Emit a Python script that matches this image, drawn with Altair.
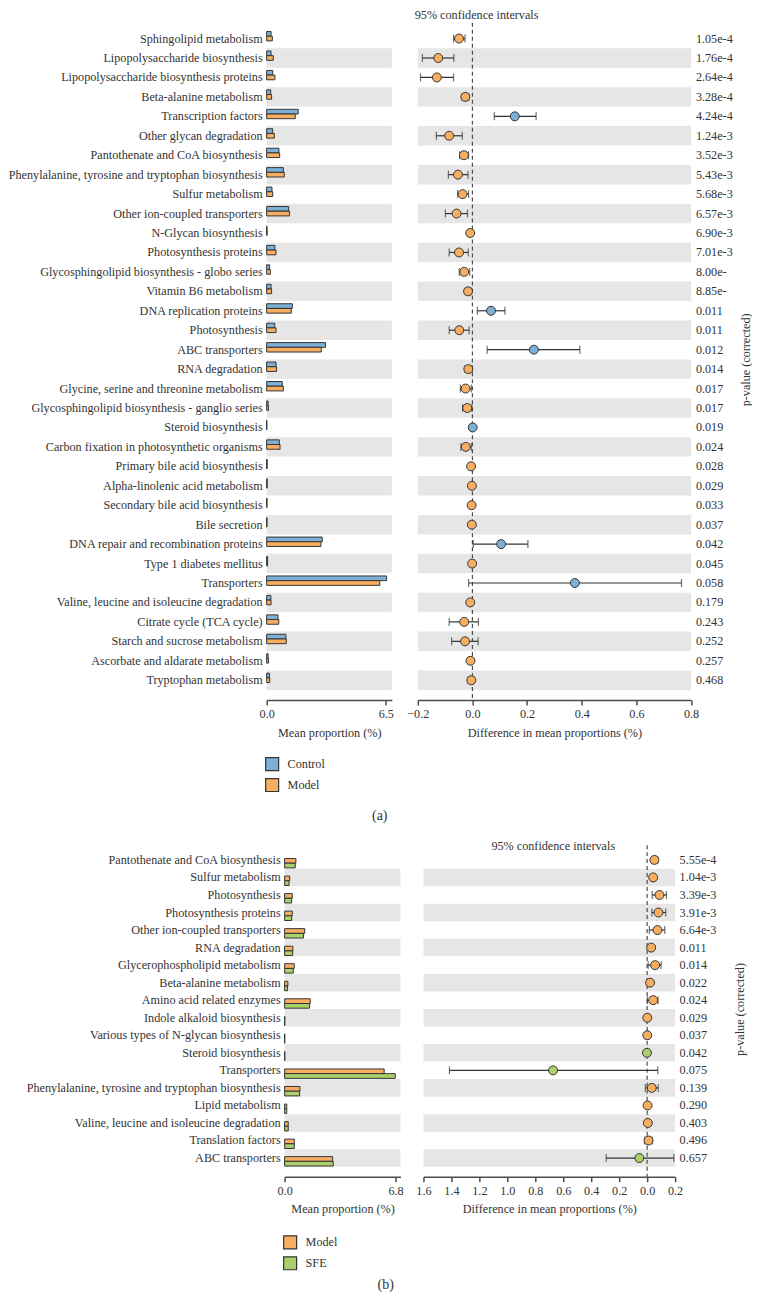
import altair as alt
import pandas as pd

FONT = "Liberation Serif"
INK = "#333333"
AXIS = "#4d4d4d"
GRAY = "#e6e6e6"
BLUE = "#7eb0d5"
ORANGE = "#f7ae61"
GREEN = "#abd06b"
FS = 12.2

# ---------------- Panel (a): Control vs Model ----------------
a_categories = [
    "Sphingolipid metabolism", "Lipopolysaccharide biosynthesis",
    "Lipopolysaccharide biosynthesis proteins", "Beta-alanine metabolism",
    "Transcription factors", "Other glycan degradation",
    "Pantothenate and CoA biosynthesis",
    "Phenylalanine, tyrosine and tryptophan biosynthesis", "Sulfur metabolism",
    "Other ion-coupled transporters", "N-Glycan biosynthesis",
    "Photosynthesis proteins", "Glycosphingolipid biosynthesis - globo series",
    "Vitamin B6 metabolism", "DNA replication proteins", "Photosynthesis",
    "ABC transporters", "RNA degradation",
    "Glycine, serine and threonine metabolism",
    "Glycosphingolipid biosynthesis - ganglio series", "Steroid biosynthesis",
    "Carbon fixation in photosynthetic organisms",
    "Primary bile acid biosynthesis", "Alpha-linolenic acid metabolism",
    "Secondary bile acid biosynthesis", "Bile secretion",
    "DNA repair and recombination proteins", "Type 1 diabetes mellitus",
    "Transporters", "Valine, leucine and isoleucine degradation",
    "Citrate cycle (TCA cycle)", "Starch and sucrose metabolism",
    "Ascorbate and aldarate metabolism", "Tryptophan metabolism",
]
a_groups = ["Control", "Model"]
a_control = [0.24, 0.24, 0.33, 0.22, 1.72, 0.33, 0.67, 0.91, 0.29, 1.20, 0.02,
             0.45, 0.16, 0.24, 1.40, 0.44, 3.21, 0.51, 0.85, 0.08, 0.01, 0.69,
             0.03, 0.03, 0.02, 0.02, 3.03, 0.05, 6.54, 0.23, 0.62, 1.05, 0.08, 0.15]
a_model = [0.31, 0.36, 0.45, 0.27, 1.56, 0.42, 0.71, 0.96, 0.33, 1.25, 0.03,
           0.51, 0.20, 0.27, 1.34, 0.51, 2.98, 0.54, 0.91, 0.10, 0.01, 0.73,
           0.03, 0.03, 0.02, 0.02, 2.96, 0.05, 6.17, 0.24, 0.66, 1.07, 0.10, 0.17]
# Control - Model, with 95% CI
a_diff = [-0.049, -0.125, -0.130, -0.026, 0.155, -0.085, -0.031, -0.053, -0.036,
          -0.058, -0.008, -0.049, -0.030, -0.016, 0.068, -0.048, 0.225, -0.015,
          -0.025, -0.019, 0.001, -0.024, -0.005, -0.002, -0.003, -0.002, 0.105,
          -0.001, 0.375, -0.008, -0.030, -0.027, -0.007, -0.004]
a_lo = [-0.069, -0.183, -0.190, -0.038, 0.080, -0.132, -0.047, -0.088, -0.054,
        -0.099, -0.010, -0.085, -0.048, -0.026, 0.018, -0.085, 0.054, -0.027,
        -0.044, -0.036, 0.000, -0.042, -0.007, -0.003, -0.005, -0.004, 0.003,
        -0.002, -0.014, -0.015, -0.085, -0.076, -0.015, -0.016]
a_hi = [-0.027, -0.068, -0.069, -0.013, 0.233, -0.037, -0.014, -0.016, -0.014,
        -0.018, -0.006, -0.015, -0.010, -0.005, 0.119, -0.012, 0.393, -0.002,
        -0.004, -0.002, 0.002, -0.004, -0.003, -0.001, -0.001, -0.001, 0.203,
        0.000, 0.765, -0.002, 0.022, 0.021, 0.000, 0.006]
a_pvalues = ["1.05e-4", "1.76e-4", "2.64e-4", "3.28e-4", "4.24e-4", "1.24e-3",
             "3.52e-3", "5.43e-3", "5.68e-3", "6.57e-3", "6.90e-3", "7.01e-3",
             "8.00e-", "8.85e-", "0.011", "0.011", "0.012", "0.014", "0.017",
             "0.017", "0.019", "0.024", "0.028", "0.029", "0.033", "0.037",
             "0.042", "0.045", "0.058", "0.179", "0.243", "0.252", "0.257", "0.468"]
a_bar_ticks = [0.0, 6.5]
a_diff_ticks = [-0.2, 0.0, 0.2, 0.4, 0.6, 0.8]
a_diff_ticks_2 = []

# ---------------- Panel (b): Model vs SFE ----------------
b_categories = [
    "Pantothenate and CoA biosynthesis", "Sulfur metabolism", "Photosynthesis",
    "Photosynthesis proteins", "Other ion-coupled transporters", "RNA degradation",
    "Glycerophospholipid metabolism", "Beta-alanine metabolism",
    "Amino acid related enzymes", "Indole alkaloid biosynthesis",
    "Various types of N-glycan biosynthesis", "Steroid biosynthesis",
    "Transporters", "Phenylalanine, tyrosine and tryptophan biosynthesis",
    "Lipid metabolism", "Valine, leucine and isoleucine degradation",
    "Translation factors", "ABC transporters",
]
b_groups = ["Model", "SFE"]
b_model = [0.69, 0.31, 0.47, 0.47, 1.23, 0.51, 0.59, 0.20, 1.57, 0.01, 0.01,
           0.01, 6.10, 0.94, 0.13, 0.22, 0.59, 2.94]
b_sfe = [0.65, 0.27, 0.43, 0.43, 1.16, 0.49, 0.53, 0.18, 1.53, 0.01, 0.01,
         0.01, 6.78, 0.92, 0.13, 0.22, 0.59, 2.98]
# Model - SFE, with 95% CI (axis shows absolute values)
b_diff = [0.052, 0.043, 0.088, 0.081, 0.074, 0.029, 0.057, 0.021, 0.043,
          0.001, 0.001, -0.001, -0.673, 0.033, 0.003, 0.005, 0.010, -0.056]
b_lo = [0.033, 0.035, 0.036, 0.034, 0.016, 0.023, 0.007, 0.016, 0.002,
        0.000, 0.000, -0.002, -1.414, -0.013, 0.001, 0.002, -0.018, -0.293]
b_hi = [0.076, 0.050, 0.138, 0.133, 0.126, 0.035, 0.100, 0.026, 0.078,
        0.002, 0.002, 0.000, 0.076, 0.079, 0.006, 0.008, 0.038, 0.191]
b_pvalues = ["5.55e-4", "1.04e-3", "3.39e-3", "3.91e-3", "6.64e-3", "0.011",
             "0.014", "0.022", "0.024", "0.029", "0.037", "0.042", "0.075",
             "0.139", "0.290", "0.403", "0.496", "0.657"]
b_bar_ticks = [0.0, 6.8]
b_diff_ticks = [-1.6, -1.2, -0.8, -0.4, 0.0]
b_diff_ticks_2 = [-1.4, -1.0, -0.6, -0.2, 0.2]


def build_panel(cats, groups, colors, m1, m2, diff, lo, hi, pvals, pos_color,
                neg_color, bar_max, bar_ticks, bar_w, lead, diff_dom, diff_ticks,
                diff_ticks_2, use_abs, diff_w, row_h, gap, legend_y, ci_offset,
                ci_anchor, ci_dx, rule_top, p_w, p_title_x, tag, tag_offset):
    n = len(cats)
    H = round(n * row_h, 1)
    rows = pd.DataFrame({
        "cat": cats, "idx": list(range(n)), "p": pvals, "diff": diff,
        "lo": lo, "hi": hi,
        "col": [pos_color if d > 0 else neg_color for d in diff],
    })
    odd = rows[rows["idx"] % 2 == 1].copy()
    odd["band_lo"] = min(diff_dom)
    odd["band_hi"] = max(diff_dom)
    bars_df = pd.DataFrame({
        "cat": list(cats) * 2,
        "group": [groups[0]] * n + [groups[1]] * n,
        "value": list(m1) + list(m2),
    })

    ysc = alt.Scale(domain=cats, paddingInner=0, paddingOuter=0)
    y_left = alt.Axis(orient="left", ticks=False, domain=False, labelPadding=4.5,
                      labelLimit=400, minExtent=259 - lead, maxExtent=300,
                      offset=-lead, title=None, labelFontSize=FS)

    xb = alt.Scale(domain=[0, bar_max], nice=False, zero=True,
                   range=[lead, lead + bar_w])
    xb_axis = alt.Axis(values=bar_ticks, format=".1f", title="Mean proportion (%)",
                       offset=10, labelFlush=False, labelOverlap=False)

    band_b = alt.Chart(odd).mark_rect(color=GRAY).encode(
        y=alt.Y("cat:N", scale=ysc, axis=y_left),
        x=alt.datum(0.0), x2=alt.datum(bar_max),
    )
    bars = alt.Chart(bars_df).mark_bar(stroke=INK, strokeWidth=1).encode(
        y=alt.Y("cat:N", scale=ysc, axis=y_left),
        yOffset=alt.YOffset("group:N", scale=alt.Scale(domain=groups, paddingOuter=0.57,
                                                        paddingInner=0)),
        x=alt.X("value:Q", scale=xb, axis=xb_axis),
        color=alt.Color("group:N", scale=alt.Scale(domain=groups, range=colors),
                        legend=alt.Legend(title=None, orient="none",
                                          legendX=lead - 2, legendY=legend_y,
                                          direction="vertical",
                                          symbolType="square", symbolSize=169,
                                          symbolStrokeColor=INK, symbolStrokeWidth=1.2,
                                          symbolOpacity=1, labelFont=FONT,
                                          labelFontSize=FS, labelColor=INK,
                                          rowPadding=2, labelOffset=8, padding=0)),
    )
    bars_chart = alt.layer(band_b, bars).properties(width=lead + bar_w, height=H)

    xd = alt.Scale(domain=diff_dom, nice=False, zero=False)
    lab = "format(abs(datum.value), '.1f')" if use_abs else "format(datum.value, '.1f')"
    axis_main = alt.Axis(values=diff_ticks, labelExpr=lab, orient="bottom",
                         title="Difference in mean proportions (%)", offset=10,
                         labelFlush=False, labelOverlap=False)
    axis_more = (alt.Axis(values=diff_ticks_2, labelExpr=lab, orient="bottom",
                          title=None, offset=10, domain=False, labelFlush=False,
                          labelOverlap=False)
                 if diff_ticks_2 else None)

    yd = alt.Y("cat:N", scale=ysc, axis=None)
    band_d = alt.Chart(odd).mark_rect(color=GRAY).encode(
        y=yd, x=alt.X("band_lo:Q", scale=xd, axis=None), x2="band_hi:Q")
    zero = alt.Chart(pd.DataFrame({"zero": [0.0]})).mark_rule(
        color=AXIS, strokeDash=[4, 3], strokeWidth=1.2).encode(
        x=alt.X("zero:Q", scale=xd, axis=axis_main),
        y=alt.value(rule_top), y2=alt.value(H + 10))
    err = alt.Chart(rows).mark_rule(color=INK, strokeWidth=1.2).encode(
        y=yd, x=alt.X("lo:Q", scale=xd, axis=None), x2="hi:Q")
    cap_lo = alt.Chart(rows).mark_tick(color=INK, thickness=1.2, size=8).encode(
        y=yd, x=alt.X("lo:Q", scale=xd, axis=None))
    cap_hi = alt.Chart(rows).mark_tick(color=INK, thickness=1.2, size=8).encode(
        y=yd, x=alt.X("hi:Q", scale=xd, axis=None))
    pts = alt.Chart(rows).mark_circle(size=80, stroke=INK, strokeWidth=1,
                                      opacity=1).encode(
        y=yd, x=alt.X("diff:Q", scale=xd, axis=axis_more),
        fill=alt.Fill("col:N", scale=None))
    diff_chart = alt.layer(band_d, zero, err, cap_lo, cap_hi, pts).resolve_axis(
        x="independent"
    ).properties(
        width=diff_w, height=H,
        title=alt.TitleParams("95% confidence intervals", anchor=ci_anchor,
                              frame="group", offset=ci_offset, dx=ci_dx,
                              fontSize=FS, font=FONT, fontWeight="normal",
                              color=INK))

    pchart = alt.Chart(rows).mark_text(align="left", baseline="middle", dx=4.5,
                                       font=FONT, fontSize=FS, color=INK).encode(
        y=alt.Y("cat:N", scale=ysc,
                axis=alt.Axis(orient="right", labels=False, ticks=False,
                              domain=False, title="p-value (corrected)",
                              titleAngle=270, titleX=p_title_x, titleY=H / 2,
                              titleAlign="center", titleBaseline="middle")),
        x=alt.value(0), text="p:N",
    ).properties(width=p_w, height=H)

    right = alt.hconcat(diff_chart, pchart, spacing=0, bounds="flush").resolve_scale(
        y="independent")
    panel = alt.hconcat(bars_chart, right, spacing=gap, bounds="flush").resolve_scale(
        x="independent", y="independent")
    return panel.properties(title=alt.TitleParams(
        tag, orient="bottom", anchor="middle", frame="bounds", offset=tag_offset,
        fontSize=14, font=FONT, fontWeight="normal", color=INK))


panel_a = build_panel(
    a_categories, a_groups, [BLUE, ORANGE], a_control, a_model, a_diff, a_lo, a_hi,
    a_pvalues, BLUE, ORANGE, 6.83, a_bar_ticks, 125.4, 0, [-0.2, 0.8],
    a_diff_ticks, a_diff_ticks_2, False, 273.7, 19.47, 25.3, 728.7, 1, "start",
    -3, -6, 40, 14, "(a)", 15)

panel_b = build_panel(
    b_categories, b_groups, [ORANGE, GREEN], b_model, b_sfe, b_diff, b_lo, b_hi,
    b_pvalues, ORANGE, GREEN, 7.1, b_bar_ticks, 116, 18, [-1.6, 0.2],
    b_diff_ticks, b_diff_ticks_2, True, 252, 17.56, 23, 384.2, -7.5, "middle", 4,
    -6, 40, 24, "(b)", 5)

chart = alt.vconcat(panel_a, panel_b, spacing=15.4).resolve_scale(
    color="independent"
).properties(padding=0, background="white").configure_view(
    stroke=None
).configure_axis(
    labelFont=FONT, titleFont=FONT, labelFontSize=FS, titleFontSize=FS,
    labelColor=INK, titleColor=INK, titleFontWeight="normal", grid=False,
    domainColor=AXIS, tickColor=AXIS, domainWidth=1.5, tickWidth=1.5, tickSize=5,
    labelPadding=3, titlePadding=6, labelOverlap=False, labelBound=False,
).configure_title(font=FONT)

chart.save("out.html", embed_options={"renderer": "svg", "actions": False})
